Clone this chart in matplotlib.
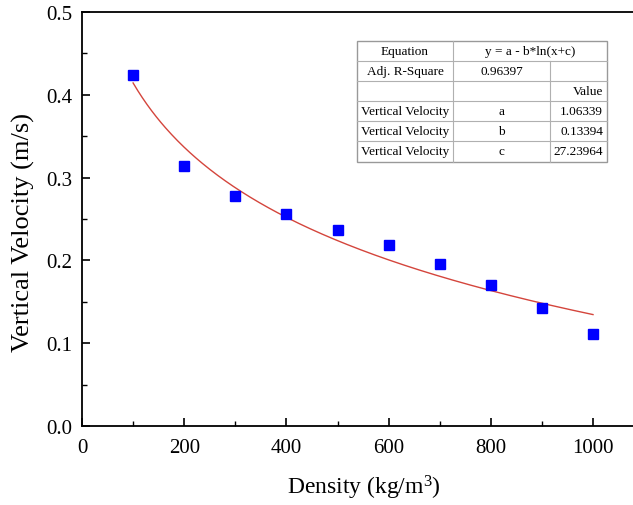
import numpy as np
import matplotlib
matplotlib.use('Agg')
import matplotlib.pyplot as plt

density = [100, 200, 300, 400, 500, 600, 700, 800, 900, 1000]
velocity = [0.424, 0.314, 0.278, 0.256, 0.237, 0.218, 0.196, 0.170, 0.142, 0.111]
fit_a, fit_b, fit_c = 1.06339, 0.13394, 27.23964
adj_r2 = "0.96397"
equation = "y = a - b*ln(x+c)"
param_names = ["a", "b", "c"]
param_values = ["1.06339", "0.13394", "27.23964"]
series_name = "Vertical Velocity"

plt.rcParams['font.family'] = ['Liberation Serif', 'DejaVu Serif']
plt.rcParams['mathtext.fontset'] = 'custom'
plt.rcParams['mathtext.rm'] = 'Liberation Serif'
plt.rcParams['mathtext.it'] = 'Liberation Serif:italic'

W, H = 633, 506
fig = plt.figure(figsize=(W / 100, H / 100), dpi=100)

def fx(px):
    return px / W

def fy(py):
    return 1 - py / H

x0, x1 = 82, 82 + 1100 * 0.511
y0, y1 = 427, 13
ax = fig.add_axes([fx(x0), fy(y0), fx(x1) - fx(x0), fy(y1) - fy(y0)])

xfit = np.linspace(min(density), max(density), 300)
yfit = fit_a - fit_b * np.log(xfit + fit_c)
ax.plot(xfit, yfit, color='#d4453c', lw=1.0, zorder=2)
ax.plot(density, velocity, 's', color='#0000ff', markersize=7.5, zorder=3)

ax.set_xlim(0, 1100)
ax.set_ylim(0, 0.5)
ax.set_xticks([0, 200, 400, 600, 800, 1000])
ax.set_xticks([100, 300, 500, 700, 900, 1100], minor=True)
ax.set_yticks([0.0, 0.1, 0.2, 0.3, 0.4, 0.5])
ax.set_yticks([0.05, 0.15, 0.25, 0.35, 0.45], minor=True)
ax.yaxis.set_major_formatter(matplotlib.ticker.FormatStrFormatter('%.1f'))
ax.tick_params(which='major', direction='in', length=6, width=1.2, labelsize=15)
ax.tick_params(axis='x', which='major', pad=9)
ax.tick_params(axis='y', which='major', pad=7)
ax.tick_params(which='minor', direction='in', length=3.5, width=1.0)
ax.tick_params(top=False, right=False)
ax.spines['right'].set_visible(False)
for s in ['left', 'bottom', 'top']:
    ax.spines[s].set_linewidth(1.3)

ax.set_xlabel(r'Density (kg/m$^{3}$)', fontsize=17)
ax.set_ylabel('Vertical Velocity (m/s)', fontsize=19)
ax.xaxis.set_label_coords((364 - x0) / (x1 - x0), (y0 - 474) / (y0 - y1))
ax.yaxis.set_label_coords((35 - x0) / (x1 - x0), (y0 - 233) / (y0 - y1))

# Table
cols = [357, 453, 550, 607]
rows = [42, 62, 82, 102, 122, 142, 163]
lc = '#b0b0b0'
def hline(py, xa, xb):
    fig.add_artist(plt.Line2D([fx(xa), fx(xb)], [fy(py), fy(py)], color=lc, lw=0.8))
def vline(px, ya, yb):
    fig.add_artist(plt.Line2D([fx(px), fx(px)], [fy(ya), fy(yb)], color=lc, lw=0.8))

fig.add_artist(plt.Rectangle((fx(cols[0]), fy(rows[-1])), fx(cols[-1]) - fx(cols[0]),
                             fy(rows[0]) - fy(rows[-1]), facecolor='white', edgecolor='#999999', lw=1.0))
for r in rows[1:-1]:
    hline(r, cols[0], cols[-1])
vline(cols[1], rows[0], rows[-1])
vline(cols[2], rows[1], rows[-1])

fs = 9.5
def cell_text(txt, col, row, ha='center'):
    yc = fy((rows[row] + rows[row + 1]) / 2)
    if ha == 'center':
        xc = fx((cols[col] + cols[col + 1]) / 2)
    else:
        xc = fx(cols[col + 1] - 4)
    fig.text(xc, yc, txt, ha=ha, va='center', fontsize=fs)

cell_text("Equation", 0, 0)
fig.text(fx((cols[1] + cols[3]) / 2), fy((rows[0] + rows[1]) / 2), equation,
         ha='center', va='center', fontsize=fs)
cell_text("Adj. R-Square", 0, 1)
cell_text(adj_r2, 1, 1)
cell_text("Value", 2, 2, ha='right')
for i, (n, v) in enumerate(zip(param_names, param_values)):
    cell_text(series_name, 0, 3 + i)
    cell_text(n, 1, 3 + i)
    cell_text(v, 2, 3 + i, ha='right')

fig.savefig('out.png', dpi=100)
